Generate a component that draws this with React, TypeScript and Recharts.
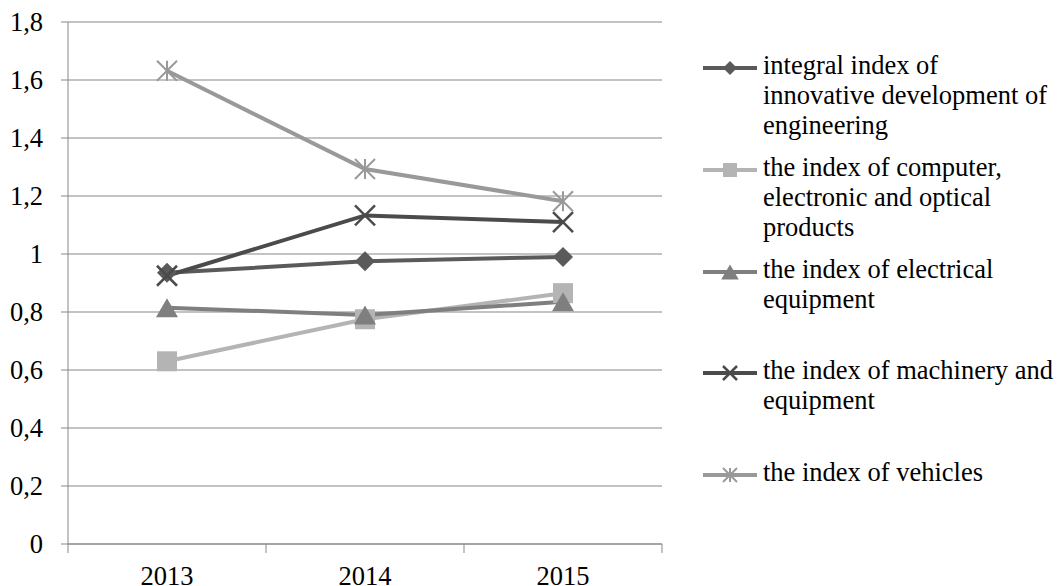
import { LineChart, Line, XAxis, YAxis, CartesianGrid } from 'recharts'

const years = ['2013', '2014', '2015']
const integralIndex = [0.935, 0.975, 0.99]
const computerIndex = [0.63, 0.775, 0.865]
const electricalIndex = [0.815, 0.79, 0.835]
const machineryIndex = [0.925, 1.133, 1.11]
const vehiclesIndex = [1.632, 1.293, 1.182]
const yTicks = [0, 0.2, 0.4, 0.6, 0.8, 1, 1.2, 1.4, 1.6, 1.8]

const seriesNames = [
  'integral index of\ninnovative development of\nengineering',
  'the index of computer,\nelectronic and optical\nproducts',
  'the index of electrical\nequipment',
  'the index of machinery and\nequipment',
  'the index of vehicles',
]

const CHART_W = 1058
const CHART_H = 586
const Y_AXIS_W = 68
const PLOT_RIGHT = 662
const PLOT_TOP = 22
const X_AXIS_H = 42
const PLOT_BOTTOM = CHART_H - X_AXIS_H
const BAND = (PLOT_RIGHT - Y_AXIS_W) / years.length
const AXIS = '#878787'
const FONT = 'Liberation Serif, Tinos, Noto Serif, DejaVu Serif, Times New Roman, Times, serif'
const FONT_SIZE = 26.5

type MarkerKind = 'diamond' | 'square' | 'triangle' | 'x' | 'star'

const series: { key: string; name: string; color: string; marker: MarkerKind; values: number[] }[] = [
  { key: 'integral', name: seriesNames[0], color: '#5a5a5a', marker: 'diamond', values: integralIndex },
  { key: 'computer', name: seriesNames[1], color: '#b4b4b4', marker: 'square', values: computerIndex },
  { key: 'electrical', name: seriesNames[2], color: '#7f7f7f', marker: 'triangle', values: electricalIndex },
  { key: 'machinery', name: seriesNames[3], color: '#4b4b4b', marker: 'x', values: machineryIndex },
  { key: 'vehicles', name: seriesNames[4], color: '#999999', marker: 'star', values: vehiclesIndex },
]

const data = years.map((year, i) => {
  const row: Record<string, string | number> = { year }
  series.forEach((s) => {
    row[s.key] = s.values[i]
  })
  return row
})

// item tops of the legend (the source spacing is uneven)
const legendTops = [50, 152, 254, 355, 457]

function Marker({ kind, cx, cy, color, s }: { kind: MarkerKind; cx: number; cy: number; color: string; s: number }) {
  switch (kind) {
    case 'diamond':
      return <polygon points={`${cx},${cy - s} ${cx + s},${cy} ${cx},${cy + s} ${cx - s},${cy}`} fill={color} />
    case 'square':
      return <rect x={cx - s} y={cy - s} width={2 * s} height={2 * s} fill={color} />
    case 'triangle':
      return (
        <polygon
          points={`${cx},${cy - s * 0.95} ${cx + s * 1.1},${cy + s * 0.95} ${cx - s * 1.1},${cy + s * 0.95}`}
          fill={color}
        />
      )
    case 'x':
      return (
        <g stroke={color} strokeWidth={2.5}>
          <line x1={cx - s} y1={cy - s} x2={cx + s} y2={cy + s} />
          <line x1={cx - s} y1={cy + s} x2={cx + s} y2={cy - s} />
        </g>
      )
    case 'star':
      return (
        <g stroke={color} strokeWidth={2}>
          <line x1={cx - s} y1={cy - s} x2={cx + s} y2={cy + s} />
          <line x1={cx - s} y1={cy + s} x2={cx + s} y2={cy - s} />
          <line x1={cx} y1={cy - s} x2={cx} y2={cy + s} />
        </g>
      )
  }
  return null
}

function XTick(props: any) {
  const { x, y, payload, index } = props
  return (
    <g>
      <line x1={x - BAND / 2} x2={x - BAND / 2} y1={PLOT_BOTTOM} y2={PLOT_BOTTOM + 9} stroke={AXIS} />
      {index === years.length - 1 && (
        <line x1={x + BAND / 2} x2={x + BAND / 2} y1={PLOT_BOTTOM} y2={PLOT_BOTTOM + 9} stroke={AXIS} />
      )}
      <text x={x} y={y} dy="0.71em" textAnchor="middle" fill="#000" fontFamily={FONT} fontSize={FONT_SIZE}>
        {payload.value}
      </text>
    </g>
  )
}

function YTick(props: any) {
  const { x, y, payload } = props
  return (
    <text x={x} y={y} dy="0.355em" textAnchor="end" fill="#000" fontFamily={FONT} fontSize={FONT_SIZE}>
      {String(payload.value).replace('.', ',')}
    </text>
  )
}

function Legend() {
  return (
    <div style={{ position: 'absolute', left: 703, top: 0 }}>
      {series.map((s, i) => (
        <div key={s.key} style={{ position: 'absolute', top: legendTops[i], left: 0, width: 355 }}>
          <svg width={54} height={30} style={{ position: 'absolute', left: 0, top: 3 }}>
            <line x1={0} x2={54} y1={15} y2={15} stroke={s.color} strokeWidth={4} />
            <Marker kind={s.marker} cx={27} cy={15} color={s.color} s={s.marker === 'triangle' ? 8 : 7} />
          </svg>
          <div
            style={{
              marginLeft: 60,
              fontFamily: FONT,
              fontSize: FONT_SIZE,
              lineHeight: '30px',
              whiteSpace: 'pre',
              color: '#000',
            }}
          >
            {s.name}
          </div>
        </div>
      ))}
    </div>
  )
}

export default function App() {
  return (
    <div style={{ position: 'absolute', left: 0, top: 0, width: CHART_W, height: CHART_H, background: '#fff', overflow: 'hidden' }}>
      <LineChart
        width={CHART_W}
        height={CHART_H}
        data={data}
        margin={{ top: PLOT_TOP, right: CHART_W - PLOT_RIGHT, bottom: 0, left: 0 }}
      >
        <CartesianGrid vertical={false} stroke={AXIS} />
        <XAxis
          dataKey="year"
          scale="band"
          height={X_AXIS_H}
          axisLine={{ stroke: AXIS }}
          tickLine={false}
          tickSize={9}
          tickMargin={13}
          tick={<XTick />}
          interval={0}
        />
        <YAxis
          width={Y_AXIS_W}
          domain={[0, 1.8]}
          ticks={yTicks}
          interval={0}
          axisLine={{ stroke: AXIS }}
          tickLine={{ stroke: AXIS }}
          tickSize={7}
          tickMargin={18}
          tick={<YTick />}
        />
        {series.map((s) => (
          <Line
            key={s.key}
            dataKey={s.key}
            name={s.name}
            stroke={s.color}
            strokeWidth={4}
            isAnimationActive={false}
            dot={(p: any) => (
              <Marker key={`${s.key}-${p.index}`} kind={s.marker} cx={p.cx} cy={p.cy} color={s.color} s={10} />
            )}
            activeDot={false}
          />
        ))}
      </LineChart>
      <Legend />
    </div>
  )
}
